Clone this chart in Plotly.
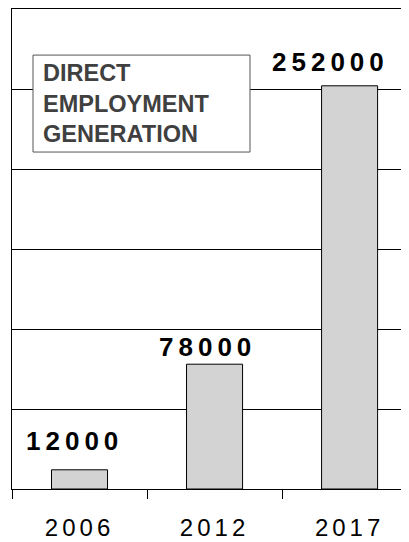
import plotly.graph_objects as go

# ---- data ----
years = ["2006", "2012", "2017"]
jobs = [12000, 78000, 252000]
title_lines = ["DIRECT", "EMPLOYMENT", "GENERATION"]

# ---- styles (kept separate from data) ----
FONT = "Arial, Liberation Sans, sans-serif"
label_xshift = [-5, -7, -19]
label_yshift = [12, 0, 7]

fig = go.Figure()
fig.add_trace(go.Bar(
    x=years, y=jobs,
    marker=dict(color="#d3d3d3", line=dict(color="#000000", width=1)),
    hoverinfo="skip",
))

for i, (v, dx, dy) in enumerate(zip(jobs, label_xshift, label_yshift)):
    fig.add_annotation(
        x=i, y=v, xref="x", yref="y",
        text=f'<span style="letter-spacing:5px">{v}</span>',
        showarrow=False, xanchor="center", yanchor="bottom",
        xshift=dx, yshift=dy,
        font=dict(family=FONT, size=26, color="#000000", weight="bold"),
    )

# title box
fig.add_shape(type="rect", xref="paper", yref="paper",
              x0=0.0529, x1=0.5995, y0=0.702, y1=0.904,
              line=dict(color="#555555", width=1), fillcolor="#ffffff", layer="above")
fig.add_annotation(
    x=0.073, y=0.803, xref="paper", yref="paper",
    text="<br>".join(title_lines), showarrow=False,
    xanchor="left", yanchor="middle", align="left",
    font=dict(family=FONT, size=23.5, color="#404040", weight="bold"),
)

# page body has an 8px margin, so the figure is shrunk by that offset
fig.update_layout(
    width=401, height=534,
    margin=dict(l=4, r=0, t=1, b=53),
    paper_bgcolor="#ffffff", plot_bgcolor="#ffffff",
    showlegend=False, bargap=0.585,
)
fig.update_xaxes(
    type="category", range=[-0.5, 2.44],
    tickmode="array", tickvals=years,
    ticktext=[f'<span style="letter-spacing:4px">{y}</span>' for y in years],
    tickson="boundaries", ticks="outside", ticklen=9, tickwidth=1, tickcolor="#000000",
    showline=True, linecolor="#000000", linewidth=1, mirror=True,
    showgrid=False, automargin=False, ticklabelstandoff=17,
    tickfont=dict(family=FONT, size=24, color="#000000"),
)
fig.update_yaxes(
    range=[0, 300000], dtick=50000, showgrid=True, gridcolor="#000000", gridwidth=1,
    showline=True, linecolor="#000000", linewidth=1,
    showticklabels=False, ticks="", zeroline=False, automargin=False,
)

fig.write_html("out.html")
